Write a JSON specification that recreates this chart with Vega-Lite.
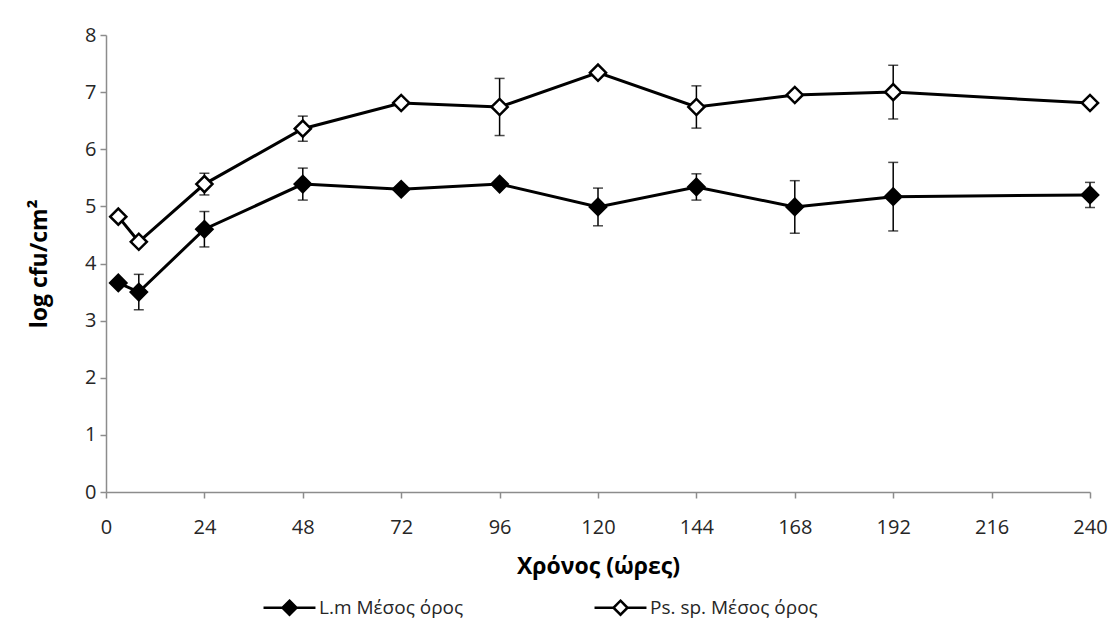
{
  "$schema": "https://vega.github.io/schema/vega-lite/v6.json",
  "width": 984,
  "height": 457,
  "autosize": {"type": "none"},
  "padding": {"left": 106, "top": 35, "right": 28, "bottom": 131},
  "background": "white",
  "config": {
    "font": "Open Sans",
    "view": {"stroke": null},
    "axis": {
      "grid": false,
      "domainColor": "#8c8c8c",
      "domainWidth": 1.5,
      "tickColor": "#8c8c8c",
      "tickWidth": 1.5,
      "tickSize": 6,
      "labelFontSize": 20,
      "labelColor": "#262626",
      "labelFont": "Open Sans",
      "titleFont": "Open Sans",
      "titleFontSize": 23,
      "titleFontWeight": "bold",
      "titleColor": "#000000"
    },
    "legend": {
      "labelFont": "Open Sans",
      "labelFontSize": 19,
      "labelColor": "#262626",
      "labelLimit": 400
    }
  },
  "data": {
    "values": [
      {"series": "L.m Μέσος όρος", "hours": 3, "mean": 3.66, "sd": 0},
      {"series": "L.m Μέσος όρος", "hours": 8, "mean": 3.5, "sd": 0.31},
      {"series": "L.m Μέσος όρος", "hours": 24, "mean": 4.6, "sd": 0.31},
      {"series": "L.m Μέσος όρος", "hours": 48, "mean": 5.39, "sd": 0.28},
      {"series": "L.m Μέσος όρος", "hours": 72, "mean": 5.3, "sd": 0},
      {"series": "L.m Μέσος όρος", "hours": 96, "mean": 5.39, "sd": 0},
      {"series": "L.m Μέσος όρος", "hours": 120, "mean": 4.99, "sd": 0.33},
      {"series": "L.m Μέσος όρος", "hours": 144, "mean": 5.34, "sd": 0.23},
      {"series": "L.m Μέσος όρος", "hours": 168, "mean": 4.99, "sd": 0.46},
      {"series": "L.m Μέσος όρος", "hours": 192, "mean": 5.17, "sd": 0.6},
      {"series": "L.m Μέσος όρος", "hours": 240, "mean": 5.2, "sd": 0.22},
      {"series": "Ps. sp. Μέσος όρος", "hours": 3, "mean": 4.82, "sd": 0},
      {"series": "Ps. sp. Μέσος όρος", "hours": 8, "mean": 4.38, "sd": 0},
      {"series": "Ps. sp. Μέσος όρος", "hours": 24, "mean": 5.39, "sd": 0.19},
      {"series": "Ps. sp. Μέσος όρος", "hours": 48, "mean": 6.36, "sd": 0.22},
      {"series": "Ps. sp. Μέσος όρος", "hours": 72, "mean": 6.81, "sd": 0},
      {"series": "Ps. sp. Μέσος όρος", "hours": 96, "mean": 6.74, "sd": 0.5},
      {"series": "Ps. sp. Μέσος όρος", "hours": 120, "mean": 7.34, "sd": 0},
      {"series": "Ps. sp. Μέσος όρος", "hours": 144, "mean": 6.74, "sd": 0.37},
      {"series": "Ps. sp. Μέσος όρος", "hours": 168, "mean": 6.95, "sd": 0.06},
      {"series": "Ps. sp. Μέσος όρος", "hours": 192, "mean": 7.0, "sd": 0.47},
      {"series": "Ps. sp. Μέσος όρος", "hours": 240, "mean": 6.81, "sd": 0}
    ]
  },
  "encoding": {
    "x": {
      "field": "hours",
      "type": "quantitative",
      "scale": {"domain": [0, 240], "nice": false},
      "axis": {"values": [0, 24, 48, 72, 96, 120, 144, 168, 192, 216, 240], "title": "Χρόνος (ώρες)", "labelPadding": 19, "titlePadding": 18, "labelFlush": false}
    },
    "y": {
      "field": "mean",
      "type": "quantitative",
      "scale": {"domain": [0, 8], "nice": false},
      "axis": {"values": [0, 1, 2, 3, 4, 5, 6, 7, 8], "format": "d", "title": "log cfu/cm²", "labelPadding": 4, "titlePadding": 33}
    }
  },
  "layer": [
    {
      "transform": [{"filter": "datum.sd > 0"}],
      "mark": {"type": "errorbar", "ticks": {"size": 10, "thickness": 1.5, "color": "#000000"}, "rule": {"strokeWidth": 1.5, "color": "#000000"}},
      "encoding": {
        "yError": {"field": "sd"},
        "detail": {"field": "series"}
      }
    },
    {
      "mark": {"type": "line", "color": "#000000", "strokeWidth": 3},
      "encoding": {
        "detail": {"field": "series"}
      }
    },
    {
      "mark": {"type": "point", "shape": "diamond", "filled": false, "size": 260, "stroke": "#000000", "strokeWidth": 2.5, "opacity": 1},
      "encoding": {
        "fill": {
          "field": "series",
          "type": "nominal",
          "scale": {"domain": ["L.m Μέσος όρος", "Ps. sp. Μέσος όρος"], "range": ["#000000", "#ffffff"]},
          "legend": {
            "title": null,
            "orient": "none",
            "legendX": 156,
            "legendY": 545,
            "direction": "horizontal",
            "columns": 2,
            "columnPadding": 125,
            "symbolType": "M-1,0L-0.26,0M0.26,0L1,0M0,-0.27L0.27,0L0,0.27L-0.27,0Z",
            "symbolSize": 2700,
            "symbolStrokeColor": "#000000",
            "symbolStrokeWidth": 2.5,
            "symbolOpacity": 1,
            "labelOffset": 2
          }
        }
      }
    }
  ]
}
